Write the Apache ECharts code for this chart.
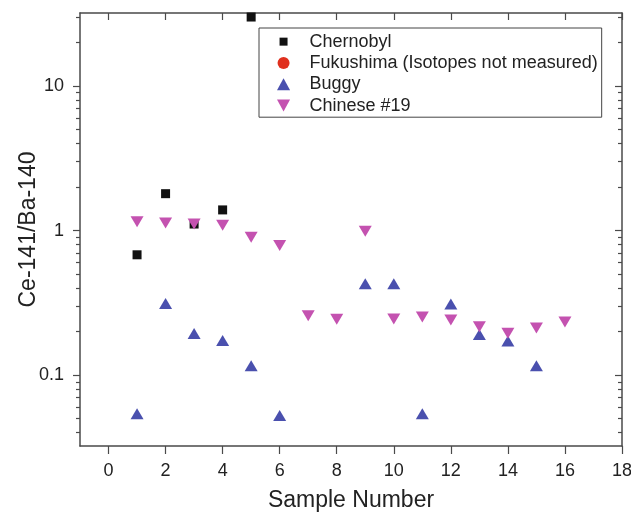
<!DOCTYPE html>
<html>
<head>
<meta charset="utf-8">
<script src="https://cdn.jsdelivr.net/npm/echarts@6/dist/echarts.min.js"></script>
<style>html,body{margin:0;padding:0;background:#fff}#c{width:631px;height:512px}</style>
</head>
<body>
<div id="c"></div>
<script>
const chernobylX = [1, 2, 3, 4, 5];
const chernobylY = [0.68, 1.8, 1.11, 1.39, 30];
const fukushimaX = [];
const fukushimaY = [];
const buggyX = [1, 2, 3, 4, 5, 6, 9, 10, 11, 12, 13, 14, 15];
const buggyY = [0.054, 0.313, 0.194, 0.174, 0.116, 0.0525, 0.428, 0.428, 0.054, 0.311, 0.191, 0.172, 0.116];
const chineseX = [1, 2, 3, 4, 5, 6, 7, 8, 9, 10, 11, 12, 13, 14, 15, 16];
const chineseY = [1.15, 1.13, 1.11, 1.09, 0.90, 0.787, 0.258, 0.244, 0.99, 0.245, 0.253, 0.241, 0.216, 0.195, 0.212, 0.233];
const xTicks = [0, 2, 4, 6, 8, 10, 12, 14, 16, 18];
const yMajor = [0.1, 1, 10];
const yMinor = [0.04, 0.05, 0.06, 0.07, 0.08, 0.09, 0.2, 0.3, 0.4, 0.5, 0.6, 0.7, 0.8, 0.9, 2, 3, 4, 5, 6, 7, 8, 9, 20, 30];
const xMin = -1, xMax = 18;
const yMin = Math.pow(10, -1.49), yMax = Math.pow(10, 1.505);

const FONT = 'Liberation Sans, Arial, sans-serif';
const LINE = '#4a4a4a';
const pairs = (xs, ys) => xs.map((x, i) => [x, ys[i]]);

const chart = echarts.init(document.getElementById('c'), null, {renderer: 'canvas'});
function yAx(pos, inside, values, len, showLine, labels) {
  return {
    type: 'log', logBase: 10, min: yMin, max: yMax, position: pos,
    axisLine: {show: showLine, onZero: false, lineStyle: {color: LINE, width: 1.5}},
    axisTick: {show: true, inside: inside, length: len, customValues: values, lineStyle: {color: LINE, width: 1.2}},
    axisLabel: labels ? {show: true, customValues: yMajor, fontFamily: FONT, fontSize: 18, color: '#222', margin: 16,
      formatter: v => String(+(+v).toPrecision(6))} : {show: false},
    splitLine: {show: false}, minorTick: {show: false}
  };
}
chart.setOption({
  animation: false,
  grid: {left: 80, right: 9, top: 13, bottom: 66, outerBoundsMode: 'none', containLabel: false},
  xAxis: [{
    type: 'value', min: xMin, max: xMax, position: 'bottom',
    name: 'Sample Number', nameLocation: 'middle', nameGap: 43, nameMoveOverlap: false,
    nameTextStyle: {fontFamily: FONT, fontSize: 23, color: '#222'},
    axisLine: {show: true, onZero: false, lineStyle: {color: LINE, width: 1.5}},
    axisTick: {show: true, inside: false, length: 8, customValues: xTicks, lineStyle: {color: LINE, width: 1.2}},
    axisLabel: {customValues: xTicks, fontFamily: FONT, fontSize: 18, color: '#222', margin: 16},
    splitLine: {show: false}
  }, {
    type: 'value', min: xMin, max: xMax, position: 'top',
    axisLine: {show: true, onZero: false, lineStyle: {color: LINE, width: 1.5}},
    axisTick: {show: true, inside: true, length: 7, customValues: xTicks, lineStyle: {color: LINE, width: 1.2}},
    axisLabel: {show: false}, splitLine: {show: false}
  }],
  yAxis: [
    Object.assign(yAx('left', false, yMajor, 7, true, true), {
      name: 'Ce-141/Ba-140', nameLocation: 'middle', nameGap: 40, nameMoveOverlap: false,
      nameTextStyle: {fontFamily: FONT, fontSize: 23, color: '#222'}
    }),
    yAx('left', false, yMinor, 4, false, false),
    yAx('right', true, yMajor, 7, true, false),
    yAx('right', true, yMinor, 4, false, false)
  ],
  legend: {
    orient: 'vertical', left: 259, top: 28,
    padding: [3, 4, 1, 18],
    itemWidth: 42, itemHeight: 12, itemGap: 0,
    borderColor: '#444', borderWidth: 1, borderRadius: 0,
    textStyle: {fontFamily: FONT, fontSize: 18, color: '#222', lineHeight: 21.3, padding: [0, 0, 0, 0]},
    data: [
      {name: 'Chernobyl', icon: 'path://M0,0M12,12M2,2h8v8h-8z'},
      {name: 'Fukushima (Isotopes not measured)', icon: 'circle'},
      {name: 'Buggy', icon: 'path://M6,0L12,11L0,11z'},
      {name: 'Chinese #19', icon: 'path://M0,0L12,0L6,11z'}
    ]
  },
  series: [
    {name: 'Chernobyl', type: 'scatter', symbol: 'rect', symbolSize: 9,
      itemStyle: {color: '#111111', opacity: 1}, data: pairs(chernobylX, chernobylY)},
    {name: 'Fukushima (Isotopes not measured)', type: 'scatter', symbol: 'circle', symbolSize: 12,
      itemStyle: {color: '#e0301e', opacity: 1}, data: pairs(fukushimaX, fukushimaY)},
    {name: 'Buggy', type: 'scatter', symbol: 'triangle', symbolSize: [13, 11],
      itemStyle: {color: '#4a50ae', opacity: 1}, data: pairs(buggyX, buggyY)},
    {name: 'Chinese #19', type: 'scatter', symbol: 'triangle', symbolRotate: 180, symbolSize: [13, 11],
      itemStyle: {color: '#c452b0', opacity: 1}, data: pairs(chineseX, chineseY)}
  ]
});
</script>
</body>
</html>
